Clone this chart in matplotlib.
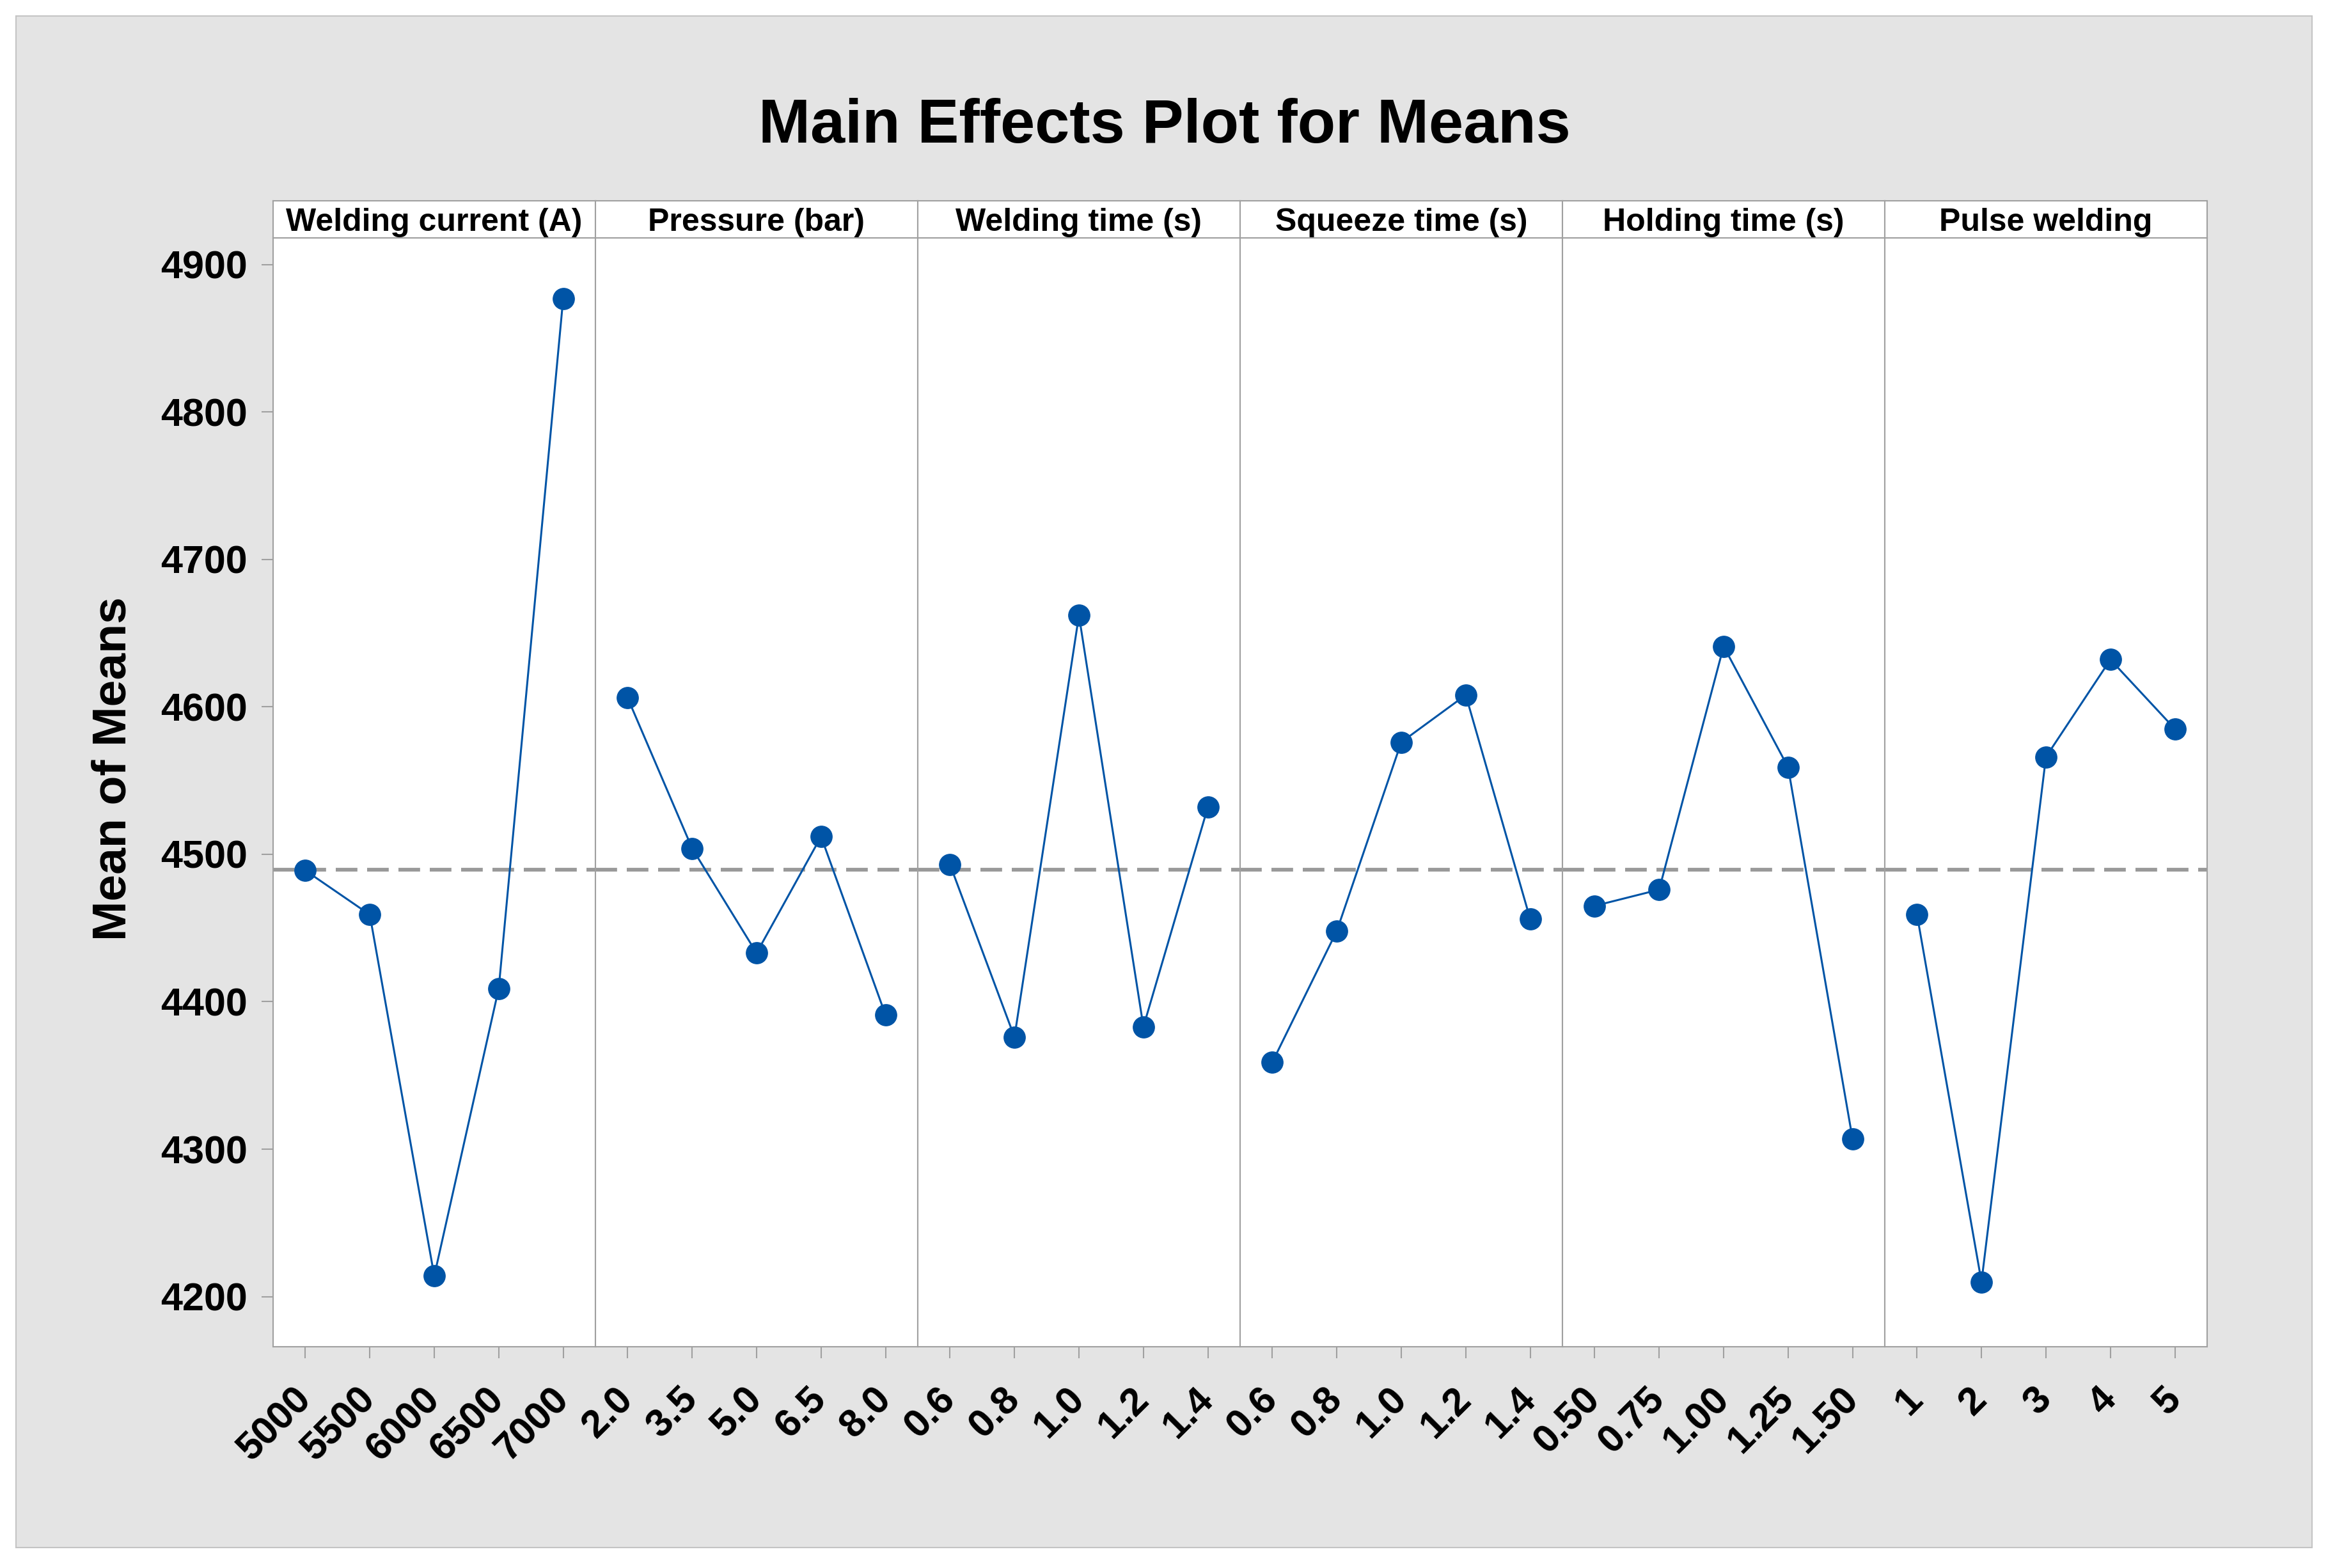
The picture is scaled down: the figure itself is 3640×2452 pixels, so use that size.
import matplotlib
matplotlib.use('Agg')
import matplotlib.pyplot as plt
from matplotlib.patches import Rectangle
from matplotlib.transforms import ScaledTranslation

# Datos (medias por nivel de cada factor)
factors = ['Welding current (A)', 'Pressure (bar)', 'Welding time (s)',
           'Squeeze time (s)', 'Holding time (s)', 'Pulse welding']

levels_current = ['5000', '5500', '6000', '6500', '7000']
levels_pressure = ['2.0', '3.5', '5.0', '6.5', '8.0']
levels_wtime = ['0.6', '0.8', '1.0', '1.2', '1.4']
levels_squeeze = ['0.6', '0.8', '1.0', '1.2', '1.4']
levels_holding = ['0.50', '0.75', '1.00', '1.25', '1.50']
levels_pulse = ['1', '2', '3', '4', '5']

means_current = [4489, 4459, 4214, 4409, 4877]
means_pressure = [4606, 4504, 4433, 4512, 4391]
means_wtime = [4493, 4376, 4662, 4383, 4532]
means_squeeze = [4359, 4448, 4576, 4608, 4456]
means_holding = [4465, 4476, 4641, 4559, 4307]
means_pulse = [4459, 4210, 4566, 4632, 4585]

grand_mean = 4489.5
y_ticks = [4200, 4300, 4400, 4500, 4600, 4700, 4800, 4900]

levels = [levels_current, levels_pressure, levels_wtime,
          levels_squeeze, levels_holding, levels_pulse]
means = [means_current, means_pressure, means_wtime,
         means_squeeze, means_holding, means_pulse]

plt.rcParams['font.family'] = ['Liberation Sans', 'DejaVu Sans']
plt.rcParams['font.weight'] = 'bold'

W, H = 3641, 2452
fig = plt.figure(figsize=(W / 100, H / 100), dpi=100)
fig.patch.set_facecolor('white')

# Fondo gris con marco (detrás de los ejes)
fig.patches.append(Rectangle((25 / W, 1 - 2420 / H), 3590 / W, 2395 / H,
                             transform=fig.transFigure, facecolor='#e4e4e4',
                             edgecolor='#c4c4c4', linewidth=1.5, zorder=-10))

left = 427 / W
right = 3451 / W
bottom = 1 - 2106 / H
top = 1 - 372 / H
strip_top = 1 - 314 / H
pw = (right - left) / 6

grey = '#a0a0a0'
blue = '#0054a6'
shift = ScaledTranslation(-16 / 100, 0, fig.dpi_scale_trans)

for i in range(6):
    x0 = left + i * pw
    ax = fig.add_axes([x0, bottom, pw, top - bottom])
    xs = list(range(1, 6))
    ax.axhline(grand_mean, color='#999999', lw=4.2, ls=(0, (5.8, 2.6)), zorder=1)
    ax.plot(xs, means[i], color=blue, lw=2.2, marker='o', ms=24, zorder=3)
    ax.set_xlim(0.5, 5.5)
    ax.set_ylim(4166, 4918)
    ax.set_facecolor('white')
    for sp in ax.spines.values():
        sp.set_color(grey)
        sp.set_linewidth(1.5)
    ax.set_xticks(xs)
    ax.set_xticklabels(levels[i], rotation=45, ha='right', va='center',
                       rotation_mode='anchor', fontsize=44, fontweight='bold')
    for lab in ax.get_xticklabels():
        lab.set_transform(lab.get_transform() + shift)
    ax.tick_params(axis='x', length=13, width=1.5, color=grey, pad=40)
    ax.set_yticks(y_ticks)
    if i == 0:
        ax.set_yticklabels([str(t) for t in y_ticks], fontsize=44, fontweight='bold')
        ax.tick_params(axis='y', length=13, width=1.5, color=grey, pad=16)
    else:
        ax.tick_params(axis='y', left=False, labelleft=False)

    # Tira con el nombre del factor
    sax = fig.add_axes([x0, top, pw, strip_top - top])
    sax.set_facecolor('white')
    sax.set_xticks([])
    sax.set_yticks([])
    for sp in sax.spines.values():
        sp.set_color(grey)
        sp.set_linewidth(1.5)
    sax.text(0.5, 0.42, factors[i], ha='center', va='center',
             fontsize=36, fontweight='bold', transform=sax.transAxes)

fig.text(0.5, 1 - 198 / H, 'Main Effects Plot for Means', ha='center',
         va='center', fontsize=70, fontweight='bold')
fig.text(177 / W, 1 - 1202 / H, 'Mean of Means', ha='center', va='center',
         rotation=90, fontsize=54, fontweight='bold')

fig.savefig('out.png', dpi=100)
